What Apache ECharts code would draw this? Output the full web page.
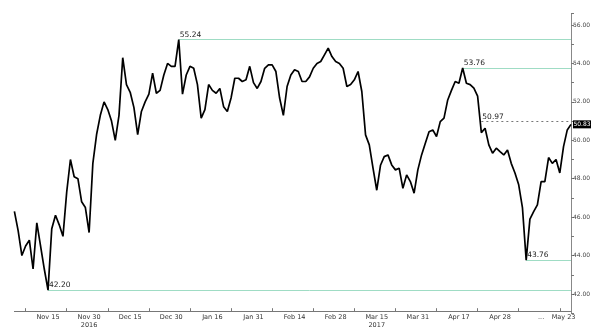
<!DOCTYPE html>
<html>
<head>
<meta charset="utf-8">
<script src="https://cdn.jsdelivr.net/npm/echarts@6/dist/echarts.min.js"></script>
<style>html,body{margin:0;padding:0;background:#fff}#c{width:600px;height:331px}</style>
</head>
<body>
<div id="c"></div>
<script>
// daily price values (one per trading slot)
var prices = [
  46.3,45.3,44.0,44.5,44.8,43.3,45.7,44.5,43.3,42.2,
  45.4,46.1,45.6,45.0,47.3,49.0,48.1,48.0,46.8,46.5,
  45.2,48.8,50.3,51.3,52.0,51.6,51.0,50.0,51.3,54.3,
  52.9,52.5,51.7,50.3,51.5,52.0,52.4,53.5,52.45,52.6,
  53.4,54.0,53.85,53.85,55.24,52.4,53.4,53.85,53.75,52.9,
  51.15,51.6,52.9,52.6,52.45,52.7,51.75,51.5,52.2,53.23,
  53.23,53.06,53.15,53.85,53.0,52.7,53.06,53.75,53.93,53.93,
  53.58,52.2,51.3,52.8,53.4,53.67,53.58,53.06,53.06,53.3,
  53.75,54.0,54.1,54.45,54.8,54.36,54.1,54.0,53.75,52.8,
  52.9,53.15,53.58,52.54,50.28,49.76,48.55,47.4,48.7,49.15,
  49.24,48.72,48.46,48.55,47.5,48.2,47.85,47.25,48.46,49.24,
  49.85,50.45,50.54,50.2,50.97,51.15,52.1,52.6,53.06,52.97,
  53.76,52.97,52.9,52.71,52.3,50.4,50.63,49.76,49.33,49.59,
  49.41,49.24,49.5,48.8,48.3,47.68,46.5,43.76,45.9,46.29,
  46.64,47.85,47.85,49.1,48.8,49.0,48.3,49.67,50.54,50.83
];
// x-axis labels and the slot where each sits
var xLabelIdx  = [9, 20, 31, 42, 53, 64, 75, 86, 97, 108, 119, 130, 141, 147];
var xLabelText = ['Nov 15','Nov 30\n2016','Dec 15','Dec 30','Jan 16','Jan 31','Feb 14','Feb 28','Mar 15\n2017','Mar 31','Apr 17','Apr 28','...','May 23'];
// reference levels: [value, start slot]
var levelValues = [55.24, 53.76, 43.76, 42.20];
var levelStart  = [44, 120, 137, 9];
var dashedLevel = 50.97, dashedStart = 125;
var lastPrice = 50.83;
var yMin = 41, yMax = 56.6;

var cats = prices.map(function(_, i){ return String(i); });
var lastIdx = prices.length - 1;
var FONT = 'DejaVu Sans';
var MINT = '#9fdcc4';

var lvlData = levelValues.map(function(v, k){
  return [{coord:[String(levelStart[k]), v], value: v.toFixed(2), lineStyle:{color:MINT, width:1, type:'solid'}},
          {coord:[String(lastIdx), v]}];
});
var dashData = [[{coord:[String(dashedStart), dashedLevel], value: dashedLevel.toFixed(2)}, {coord:[String(lastIdx), dashedLevel]}]];

var chart = echarts.init(document.getElementById('c'), null, {renderer:'canvas'});
chart.setOption({
  backgroundColor:'#fff',
  animation:false,
  grid:{left:14.4, right:29, top:13.5, bottom:17.8, containLabel:false},
  xAxis:{
    type:'category', data:cats, boundaryGap:false, offset:-2,
    axisLine:{lineStyle:{color:'#777', width:1}},
    axisTick:{inside:true, length:3, lineStyle:{color:'#777'},
      interval:function(i){ return i >= 3 && (i-3) % 11 === 0; }},
    axisLabel:{
      interval:function(i){ return xLabelIdx.indexOf(i) >= 0; },
      formatter:function(v, i){ var k = xLabelIdx.indexOf(Number(v)); return k>=0 ? xLabelText[k] : ''; },
      fontSize:6.5, fontFamily:FONT, color:'#333', margin:2, lineHeight:8
    },
    splitLine:{show:false}
  },
  yAxis:{
    type:'value', position:'right', min:yMin, max:yMax, interval:1,
    axisLine:{show:true, lineStyle:{color:'#888', width:1}},
    axisTick:{show:true, inside:false, length:3, lineStyle:{color:'#777'}},
    axisLabel:{
      formatter:function(v){ return (Math.abs(v - Math.round(v)) < 1e-6 && Math.round(v) % 2 === 0) ? v.toFixed(2) : ''; },
      fontSize:6, fontFamily:FONT, color:'#444', margin:2
    },
    splitLine:{show:false}
  },
  series:[
    {
      type:'line', data:prices, symbol:'none', smooth:false,
      lineStyle:{color:'#000', width:1.7},
      z:5,
      markLine:{
        silent:true, symbol:['none','none'],
        lineStyle:{color:MINT, width:1, type:'solid'},
        label:{show:true, position:'insideStartTop', distance:[1,1], formatter:'{c}',
          fontSize:7.5, fontFamily:FONT, color:'#222'},
        data:lvlData
      },
      markPoint:{
        silent:true,
        data:[{coord:[String(lastIdx), lastPrice], value: lastPrice.toFixed(2)}],
        symbol:'rect', symbolSize:[18,8], symbolOffset:[11,0],
        itemStyle:{color:'#000'},
        label:{show:true, color:'#fff', fontSize:6, fontFamily:FONT, formatter:'{c}'}
      }
    },
    {
      type:'line', data:[], symbol:'none',
      markLine:{
        silent:true, symbol:['none','none'],
        lineStyle:{color:'#777', width:1, type:[2,3]},
        label:{show:true, position:'insideStartTop', distance:[1,1], formatter:'{c}',
          fontSize:7.5, fontFamily:FONT, color:'#222'},
        data:dashData
      }
    }
  ]
});
</script>
</body>
</html>
